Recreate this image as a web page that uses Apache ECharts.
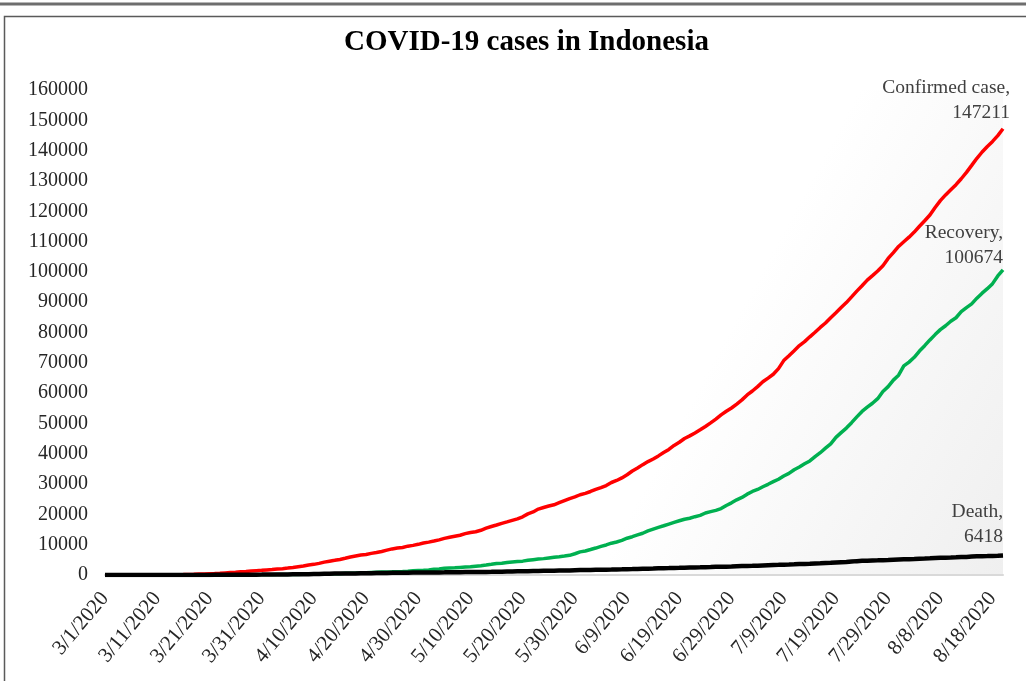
<!DOCTYPE html>
<html>
<head>
<meta charset="utf-8">
<title>COVID-19 cases in Indonesia</title>
<script src="https://cdn.jsdelivr.net/npm/echarts@6/dist/echarts.min.js"></script>
<style>
  html, body { margin: 0; padding: 0; background: #fff; }
  #main { width: 1026px; height: 681px; }
</style>
</head>
<body>
<div id="main"></div>
<script>
// daily cumulative figures, 3/1/2020 .. 8/20/2020
var confirmed = [
  0, 2, 2, 2, 2, 4, 4, 6, 19, 27, 34, 34, 69, 96, 117, 134, 172, 227, 311, 369,
  450, 514, 579, 686, 790, 893, 1046, 1155, 1285, 1414, 1528,
  1677, 1790, 1986, 2092, 2273, 2491, 2738, 2956, 3293, 3512, 3842, 4241, 4557, 4839, 5136,
  5516, 5923, 6248, 6575, 6760, 7135, 7418, 7775, 8211, 8607, 8882, 9096, 9511, 9771, 10118,
  10551, 10843, 11192, 11587, 12071, 12438, 12776, 13112, 13645, 14032, 14265, 14749, 15438,
  16006, 16496, 17025, 17514, 18010, 18496, 19189, 20162, 20796, 21745, 22271, 22750, 23165,
  23851, 24538, 25216, 25773, 26473,
  26940, 27549, 28233, 28818, 29521, 30514, 31186, 32033, 33076, 34316, 35295, 36406, 37420,
  38277, 39294, 40400, 41431, 42762, 43803, 45029, 45891, 46845, 47896, 49009, 50187, 51427,
  52812, 54010, 55092, 56385,
  57770, 59394, 60695, 62142, 63749, 64958, 66226, 68079, 70736, 72347, 74018, 75699, 76981,
  78572, 80094, 81668, 83130, 84882, 86521, 88214, 89869, 91751, 93657, 95418, 97286, 98778,
  100303, 102051, 104432, 106336, 108376,
  109936, 111455, 113134, 115056, 116871, 118753, 121226, 123503, 125396, 127083, 128776,
  130718, 132816, 135123, 137468, 139549, 141370, 143043, 144945, 147211
];
var recovery = [
  0, 0, 0, 0, 0, 0, 0, 0, 0, 0, 0, 2, 5, 5, 8, 8, 9, 11, 15, 17,
  20, 29, 30, 30, 31, 35, 46, 59, 64, 75, 81,
  103, 112, 134, 150, 164, 192, 204, 222, 252, 282, 286, 359, 380, 426, 446,
  548, 607, 631, 686, 747, 842, 913, 960, 1002, 1042, 1107, 1151, 1254, 1391, 1522,
  1591, 1665, 1876, 1954, 2197, 2317, 2381, 2494, 2607, 2698, 2881, 3063, 3287,
  3518, 3803, 3911, 4129, 4324, 4467, 4575, 4838, 5057, 5249, 5402, 5642, 5877,
  6057, 6240, 6492, 7015, 7637,
  7935, 8406, 8892, 9443, 9907, 10498, 10904, 11414, 12129, 12636, 13213, 13776, 14531,
  15123, 15703, 16243, 16798, 17349, 17883, 18404, 18735, 19241, 19658, 20449, 20898, 21333,
  21909, 22936, 23800, 24806,
  25595, 26667, 27568, 28219, 29105, 29919, 30785, 31585, 32651, 33529, 34719, 35638, 36689,
  37636, 39050, 40345, 41834, 43268, 45401, 46977, 48466, 50255, 52164, 53945, 55354, 56655,
  58173, 60539, 62138, 64292, 65907,
  68975, 70237, 71815, 73889, 75645, 77557, 79306, 80952, 82236, 83710, 84862,
  86863, 88214, 89444, 91321, 92985, 94451, 96118, 98657, 100674
];
var death = [
  0, 0, 0, 0, 0, 0, 0, 0, 0, 0, 1, 1, 4, 5, 5, 5, 5, 19, 25, 32,
  38, 48, 49, 55, 58, 78, 87, 102, 114, 122, 136,
  157, 170, 181, 191, 198, 209, 221, 240, 280, 306, 327, 373, 399, 459, 469,
  496, 520, 535, 582, 590, 616, 635, 647, 689, 720, 743, 765, 773, 784, 792,
  800, 831, 845, 864, 872, 895, 930, 943, 959, 973, 991, 1007, 1028,
  1043, 1076, 1089, 1148, 1191, 1221, 1242, 1278, 1326, 1351, 1372, 1391, 1418,
  1473, 1496, 1520, 1573, 1613,
  1641, 1663, 1698, 1721, 1770, 1801, 1851, 1883, 1923, 1959, 2000, 2048, 2091,
  2134, 2198, 2231, 2276, 2339, 2373, 2429, 2465, 2500, 2535, 2573, 2620, 2683,
  2720, 2754, 2805, 2876,
  2934, 2987, 3036, 3089, 3171, 3241, 3309, 3359, 3417, 3469, 3535, 3606, 3656,
  3710, 3797, 3873, 3957, 4016, 4143, 4239, 4320, 4459, 4576, 4665, 4714, 4781,
  4838, 4901, 4975, 5058, 5131,
  5193, 5236, 5302, 5388, 5452, 5521, 5593, 5658, 5723, 5765, 5824,
  5903, 5968, 6071, 6150, 6207, 6238, 6277, 6346, 6418
];

// category labels m/d/2020, one per row
var dates = [];
var d0 = new Date(2020, 2, 1);
for (var i = 0; i < confirmed.length; i++) {
  var d = new Date(d0.getTime() + i * 86400000);
  dates.push((d.getMonth() + 1) + '/' + d.getDate() + '/2020');
}

var serif = '"Liberation Serif", "Times New Roman", serif';

// end-of-line caption: "Name,\nvalue"
function endLabel(name, dy, dx) {
  return {
    show: true,
    formatter: function (p) { return name + ',\n' + p.value; },
    align: 'right',
    verticalAlign: 'bottom',
    distance: 0,
    offset: [dx, dy],
    fontFamily: serif,
    fontSize: 19.5,
    lineHeight: 25,
    color: '#404040'
  };
}

var chart = echarts.init(document.getElementById('main'));

var option = {
  animation: false,
  backgroundColor: '#fff',
  title: {
    text: 'COVID-19 cases in Indonesia',
    left: 344,
    top: 28,
    padding: 0,
    textStyle: { fontFamily: serif, fontSize: 29, fontWeight: 'bold', color: '#000' }
  },
  graphic: [
    { type: 'line', shape: { x1: 0, y1: 4, x2: 1026, y2: 4 }, style: { stroke: '#6e6e6e', lineWidth: 3 } },
    { type: 'rect', shape: { x: 4.5, y: 16.5, width: 1040, height: 700 }, style: { fill: null, stroke: '#5a5a5a', lineWidth: 1.5 } }
  ],
  grid: {
    left: 105,
    right: 23,
    top: 90,
    bottom: 106,
    show: true,
    borderWidth: 0,
    backgroundColor: {
      type: 'linear', x: 0, y: 0, x2: 1, y2: 1,
      colorStops: [
        { offset: 0, color: '#ffffff' },
        { offset: 0.65, color: '#ffffff' },
        { offset: 1, color: '#efefef' }
      ]
    }
  },
  xAxis: {
    type: 'category',
    data: dates,
    boundaryGap: false,
    axisLine: { lineStyle: { color: '#d9d9d9', width: 2 } },
    axisTick: { show: false },
    axisLabel: {
      interval: 9,
      rotate: 50,
      margin: 20,
      fontFamily: serif,
      fontSize: 21,
      color: '#262626'
    },
    splitLine: { show: false }
  },
  yAxis: {
    type: 'value',
    min: 0,
    max: 160000,
    interval: 10000,
    axisLine: { show: false },
    axisTick: { show: false },
    splitLine: { show: false },
    axisLabel: {
      margin: 17,
      fontFamily: serif,
      fontSize: 20,
      color: '#262626',
      formatter: function (v) { return String(v); }
    }
  },
  series: [
    {
      name: 'Confirmed case',
      type: 'line',
      data: confirmed,
      showSymbol: false,
      lineStyle: { color: '#ff0000', width: 3.5 },
      itemStyle: { color: '#ff0000' },
      endLabel: endLabel('Confirmed case', -3, 7)
    },
    {
      name: 'Recovery',
      type: 'line',
      data: recovery,
      showSymbol: false,
      lineStyle: { color: '#00b050', width: 3.5 },
      itemStyle: { color: '#00b050' },
      endLabel: endLabel('Recovery', 1, 0)
    },
    {
      name: 'Death',
      type: 'line',
      data: death,
      showSymbol: false,
      lineStyle: { color: '#000000', width: 4.5 },
      itemStyle: { color: '#000000' },
      endLabel: endLabel('Death', -6, 0)
    }
  ]
};

chart.setOption(option);
</script>
</body>
</html>
